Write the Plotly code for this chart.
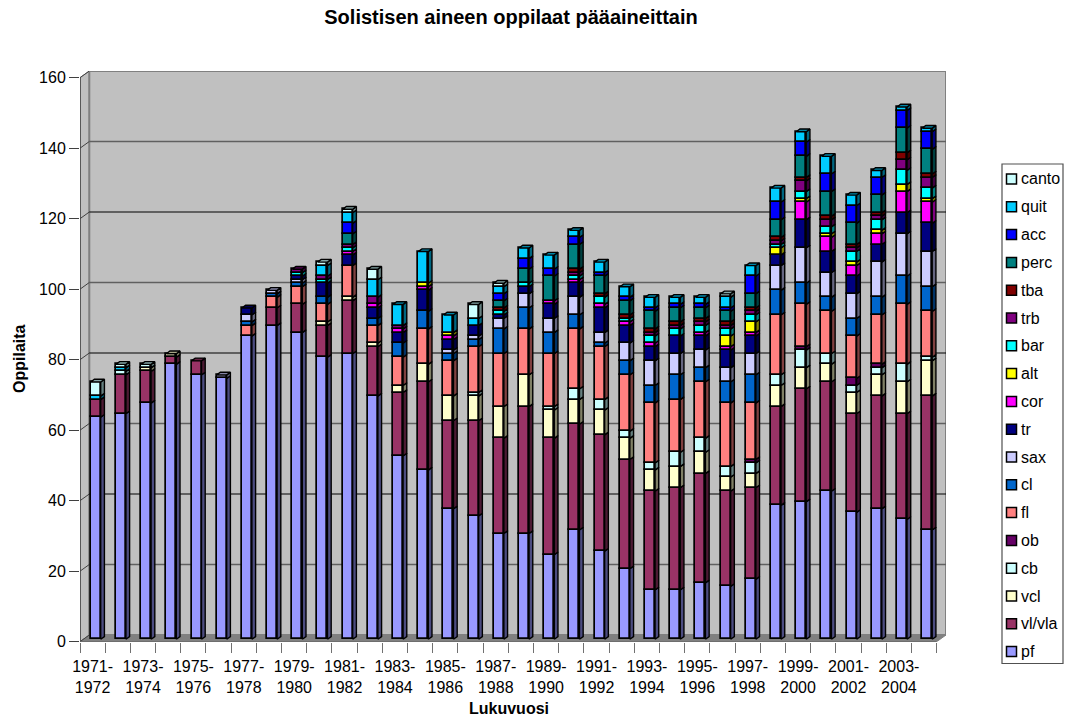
import plotly.graph_objects as go

# Data, one list per instrument, one value per school year
years = [f"{y}-{y + 1}" for y in range(1971, 2005)]
pf = [63, 64, 67, 78, 75, 74, 86, 89, 87, 80, 81, 69, 52, 48, 37, 35, 30, 30, 24, 31, 25, 20, 14, 14, 16, 15, 17, 38, 39, 42, 36, 37, 34, 31]
vl_vla = [5, 11, 9, 2, 4, 0, 0, 5, 8, 9, 15, 14, 18, 25, 25, 27, 27, 36, 33, 30, 33, 31, 28, 29, 31, 27, 26, 28, 32, 31, 28, 32, 30, 38]
vcl = [0, 0, 1, 1, 0, 0, 0, 0, 0, 1, 1, 1, 2, 5, 7, 7, 9, 9, 8, 7, 7, 6, 6, 6, 6, 4, 4, 6, 6, 5, 6, 6, 9, 10]
cb = [0, 1, 0, 0, 0, 0, 0, 0, 0, 0, 0, 0, 0, 0, 0, 1, 0, 0, 1, 3, 3, 2, 2, 4, 4, 3, 3, 3, 5, 3, 2, 2, 5, 1]
ob = [0, 0, 0, 0, 0, 0, 0, 0, 0, 0, 0, 0, 0, 0, 0, 0, 0, 0, 0, 0, 0, 0, 0, 0, 0, 0, 1, 0, 1, 0, 2, 1, 0, 0]
fl = [0, 0, 0, 0, 0, 0, 3, 3, 5, 5, 9, 5, 8, 10, 10, 13, 15, 13, 15, 17, 15, 16, 17, 15, 16, 18, 16, 17, 12, 12, 12, 14, 17, 13]
cl = [0, 0, 0, 0, 0, 0, 1, 1, 1, 2, 0, 2, 4, 5, 2, 2, 7, 6, 6, 4, 1, 4, 5, 7, 4, 6, 8, 7, 6, 4, 5, 5, 8, 7]
sax = [0, 0, 0, 0, 0, 1, 2, 1, 1, 0, 0, 0, 0, 0, 1, 1, 3, 4, 4, 5, 3, 5, 7, 6, 5, 4, 6, 7, 10, 7, 7, 10, 12, 10]
tr = [0, 0, 0, 0, 0, 0, 2, 0, 1, 4, 3, 3, 3, 6, 3, 3, 1, 2, 4, 4, 7, 5, 4, 5, 4, 5, 5, 3, 8, 6, 5, 5, 6, 8]
cor = [0, 0, 0, 0, 0, 0, 0, 0, 0, 0, 1, 1, 1, 1, 1, 0, 0, 0, 1, 1, 1, 1, 1, 0, 1, 1, 1, 0, 5, 4, 3, 3, 6, 6]
alt = [0, 0, 0, 0, 0, 0, 0, 0, 0, 0, 0, 0, 0, 1, 1, 0, 0, 0, 0, 0, 0, 0, 0, 0, 0, 3, 3, 2, 1, 1, 1, 1, 2, 1]
bar = [0, 0, 0, 0, 0, 0, 0, 0, 1, 1, 1, 0, 0, 0, 0, 0, 1, 1, 0, 1, 2, 1, 2, 2, 2, 2, 2, 1, 2, 2, 3, 3, 4, 3]
trb = [0, 0, 0, 0, 0, 0, 0, 0, 1, 1, 1, 2, 1, 0, 0, 0, 0, 0, 0, 1, 0, 0, 1, 1, 1, 1, 1, 1, 3, 2, 1, 1, 3, 3]
tba = [0, 0, 0, 0, 0, 0, 0, 0, 0, 0, 0, 0, 0, 0, 0, 0, 1, 0, 0, 1, 1, 1, 1, 1, 1, 1, 1, 1, 1, 1, 1, 1, 2, 1]
perc = [0, 0, 0, 0, 0, 0, 0, 0, 0, 0, 3, 0, 0, 0, 0, 0, 2, 4, 7, 7, 5, 4, 5, 4, 3, 3, 4, 5, 6, 7, 6, 5, 7, 7]
acc = [0, 0, 0, 0, 0, 0, 0, 0, 0, 0, 3, 0, 0, 0, 0, 0, 2, 3, 2, 2, 1, 1, 1, 1, 1, 1, 5, 5, 4, 5, 5, 5, 5, 5]
quit_ = [1, 1, 0, 0, 0, 0, 0, 0, 0, 3, 3, 5, 6, 9, 5, 2, 2, 3, 4, 2, 3, 3, 3, 2, 2, 3, 3, 4, 3, 5, 3, 2, 1, 1]
canto = [4, 1, 1, 0, 0, 0, 0, 0, 0, 1, 1, 3, 0, 0, 0, 4, 1, 0, 0, 0, 0, 0, 0, 0, 0, 1, 0, 0, 0, 0, 0, 0, 0, 0]

series = [
    ("pf", pf, "#9999FF"), ("vl/vla", vl_vla, "#993366"), ("vcl", vcl, "#FFFFCC"),
    ("cb", cb, "#CCFFFF"), ("ob", ob, "#660066"), ("fl", fl, "#FF8080"),
    ("cl", cl, "#0066CC"), ("sax", sax, "#CCCCFF"), ("tr", tr, "#000080"),
    ("cor", cor, "#FF00FF"), ("alt", alt, "#FFFF00"), ("bar", bar, "#00FFFF"),
    ("trb", trb, "#800080"), ("tba", tba, "#800000"), ("perc", perc, "#008080"),
    ("acc", acc, "#0000FF"), ("quit", quit_, "#00CCFF"), ("canto", canto, "#CCFFFF"),
]
y_ticks = [0, 20, 40, 60, 80, 100, 120, 140, 160]

FONT = "Liberation Sans"
W, H = 1072, 720
MARGIN_T = 40

# Pseudo 3D depth, in axis units
WALL_DX, WALL_DY = 0.369, 1.9
BAR_LEFT, BAR_WIDTH = 0.425, 0.397
BAR_DX, BAR_DY = 0.147, 0.77
BAR_BASE = 0.68
N = len(years)


def px(x):
    return x / W


def py(y):
    return 1 - (y - MARGIN_T) / (H - MARGIN_T)


def shade(color, f):
    r, g, b = (int(color[i:i + 2], 16) for i in (1, 3, 5))
    return f"rgb({r * f:.0f},{g * f:.0f},{b * f:.0f})"


fig = go.Figure()

# Walls, floor and gridlines
wall = dict(type="path", xref="x", yref="y", layer="below")
fig.add_shape(path=f"M 0 0 L {WALL_DX} {WALL_DY} L {WALL_DX} {160 + WALL_DY} L 0 160 Z",
              fillcolor="#C0C0C0", line=dict(color="#808080", width=1), **wall)
fig.add_shape(path=f"M {WALL_DX} {WALL_DY} L {N + WALL_DX} {WALL_DY} L {N + WALL_DX} {160 + WALL_DY} L {WALL_DX} {160 + WALL_DY} Z",
              fillcolor="#C0C0C0", line=dict(color="#808080", width=2), **wall)
fig.add_shape(path=f"M 0 0 L {N} 0 L {N + WALL_DX} {WALL_DY} L {WALL_DX} {WALL_DY} Z",
              fillcolor="#808080", line=dict(color="#808080", width=1), **wall)
for t in y_ticks[1:-1]:
    # the original alternates thin black and thicker grey gridlines
    grid = dict(color="#000000", width=1) if t % 40 == 0 else dict(color="#606060", width=1.6)
    fig.add_shape(type="line", xref="x", yref="y", layer="below", x0=WALL_DX, x1=N + WALL_DX,
                  y0=t + WALL_DY, y1=t + WALL_DY, line=grid)
for t in y_ticks:
    fig.add_shape(type="line", xref="x", yref="y", layer="below", x0=0, x1=WALL_DX,
                  y0=t, y1=t + WALL_DY, line=dict(color="#404040", width=1))
fig.add_shape(type="line", xref="x", yref="y", layer="below", x0=0, x1=0, y0=0, y1=160,
              line=dict(color="#404040", width=1.5))
fig.add_shape(type="line", xref="x", yref="y", layer="below", x0=0, x1=N, y0=0, y1=0,
              line=dict(color="#606060", width=1.5))

# Stacked front faces, with side and top faces worked out from the same values
stack = [BAR_BASE] * N
for name, values, color in series:
    tops = [b + v for b, v in zip(stack, values)]
    fig.add_trace(go.Bar(
        x=[i + BAR_LEFT + BAR_WIDTH / 2 for i in range(N)],
        y=[v if v else None for v in values],
        base=stack,
        width=BAR_WIDTH,
        name=name,
        showlegend=False,
        marker=dict(color=color, line=dict(color="#000000", width=1.7)),
    ))
    sx, sy = [], []
    for i in range(N):
        if values[i]:
            xr = i + BAR_LEFT + BAR_WIDTH
            sx += [xr, xr + BAR_DX, xr + BAR_DX, xr, xr, None]
            sy += [stack[i], stack[i] + BAR_DY, tops[i] + BAR_DY, tops[i], stack[i], None]
    fig.add_trace(go.Scatter(x=sx, y=sy, mode="lines", fill="toself", fillcolor=shade(color, 0.5),
                             line=dict(color="#000000", width=1.4), showlegend=False, hoverinfo="skip"))
    stack = tops

# Top face of each column takes the shade of its highest non-empty series
for name, values, color in series:
    tx, ty = [], []
    for i in range(N):
        above = [s[1][i] for s in series[[n for n, _, _ in series].index(name) + 1:]]
        if values[i] and not any(above):
            xl = i + BAR_LEFT
            xr = xl + BAR_WIDTH
            tx += [xl, xr, xr + BAR_DX, xl + BAR_DX, xl, None]
            ty += [stack[i], stack[i], stack[i] + BAR_DY, stack[i] + BAR_DY, stack[i], None]
    if tx:
        fig.add_trace(go.Scatter(x=tx, y=ty, mode="lines", fill="toself", fillcolor=shade(color, 0.65),
                                 line=dict(color="#000000", width=1.4), showlegend=False, hoverinfo="skip"))

# Legend box, canto on top like in the original
fig.add_shape(type="rect", xref="paper", yref="paper", x0=px(1002), x1=px(1063), y0=py(164), y1=py(663.5),
              fillcolor="#FFFFFF", line=dict(color="#505050", width=1.2))
for k, (name, values, color) in enumerate(reversed(series)):
    yc = 179 + 27.8 * k
    fig.add_shape(type="rect", xref="paper", yref="paper", x0=px(1006.5), x1=px(1016.5),
                  y0=py(yc - 5), y1=py(yc + 5), fillcolor=color, line=dict(color="#000000", width=1.5))
    fig.add_annotation(xref="paper", yref="paper", x=px(1019), y=py(yc), text=name, showarrow=False,
                       xanchor="left", yanchor="middle", font=dict(family=FONT, size=16, color="#000000"))

# Axis titles sit off the centre of the axes in the original
fig.add_annotation(xref="paper", yref="paper", x=px(509), y=py(708), text="<b>Lukuvuosi</b>", showarrow=False,
                   xanchor="center", yanchor="middle", font=dict(family=FONT, size=16, color="#000000"))
fig.add_annotation(xref="paper", yref="paper", x=px(19), y=py(359), text="<b>Oppilaita</b>", showarrow=False,
                   textangle=-90, xanchor="center", yanchor="middle", font=dict(family=FONT, size=16, color="#000000"))

fig.update_layout(
    width=W, height=H,
    margin=dict(l=0, r=0, t=MARGIN_T, b=0),
    paper_bgcolor="#FFFFFF",
    plot_bgcolor="rgba(0,0,0,0)",
    barmode="overlay",
    bargap=0,
    showlegend=False,
    font=dict(family=FONT, color="#000000"),
    title=dict(text="<b>Solistisen aineen oppilaat pääaineittain</b>", x=px(511), xanchor="center",
               y=1 - 17 / H, yanchor="middle", font=dict(family=FONT, size=20, color="#000000")),
    xaxis=dict(
        domain=[px(80), px(946)],
        range=[0, N + WALL_DX],
        showgrid=False, zeroline=False, showline=False,
        tickmode="array",
        tickvals=[i + 0.5 for i in range(0, N, 2)],
        ticktext=[years[i].replace("-", "-<br>") for i in range(0, N, 2)],
        ticks="outside", ticklen=10, tickcolor="rgba(0,0,0,0)",
        tickangle=0,
        tickfont=dict(family=FONT, size=16),
        minor=dict(tickmode="array", tickvals=list(range(N + 1)), ticks="outside", ticklen=10,
                   tickcolor="#707070", tickwidth=1.2, showgrid=False),
        automargin=False,
    ),
    yaxis=dict(
        domain=[py(641.7), py(71)],
        range=[0, 160 + WALL_DY],
        showgrid=False, zeroline=False, showline=False,
        tickmode="array",
        tickvals=y_ticks,
        ticks="outside", ticklen=10, tickcolor="#404040", tickwidth=1.2,
        tickfont=dict(family=FONT, size=16),
        automargin=False,
    ),
)

# Drop the page's default body margin so the figure fills the window exactly
fig.write_html("out.html", config={"displayModeBar": False},
               post_script="document.body.style.margin = '0';")
